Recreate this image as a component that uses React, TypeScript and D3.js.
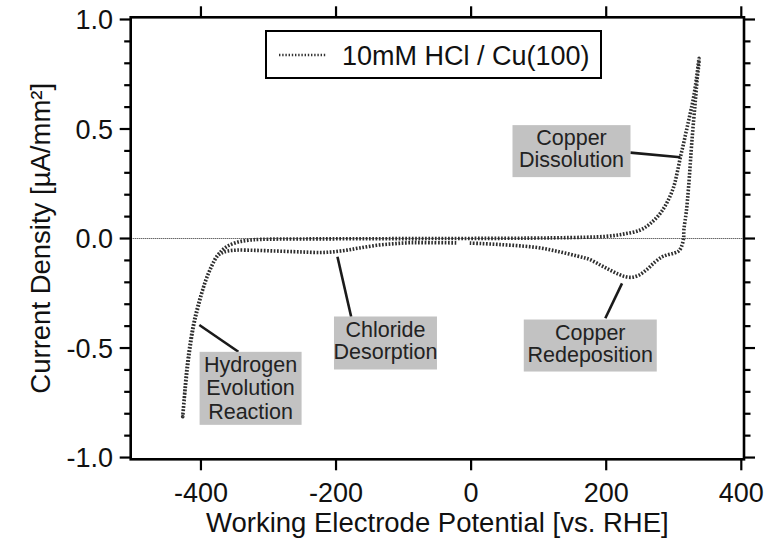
import React from "react";
import * as d3 from "d3";

// Cyclic voltammogram of Cu(100) in 10 mM HCl, traced as one continuous sweep
const potential: number[] = [
  -22, -60, -90, -115, -140, -165, -184, -205, -223, -245, -263, -290, -320, -347, -360, -368, -376, -384, -394, -404, -411, -418, -423, -427,
  -425, -421, -415, -408, -399, -389, -379, -370, -360, -345, -330, -312, -250, -150, -50, 50, 120, 170, 200, 225, 250.5, 266, 280, 291, 300, 305, 310, 315, 320, 325, 329.5, 334, 337.5,
  337, 335.5, 332, 327, 322, 318.5, 315, 314.5, 311, 307, 300, 290, 282, 272, 260, 248, 238, 228, 218, 205, 192, 175, 157, 130, 100, 70, 40, 15, -2,
];
const current: number[] = [
  -0.02, -0.019, -0.019, -0.024, -0.031, -0.043, -0.053, -0.061, -0.064, -0.062, -0.06, -0.057, -0.054, -0.053, -0.057, -0.064, -0.08, -0.125, -0.2, -0.31, -0.4, -0.54, -0.677, -0.814,
  -0.74, -0.6, -0.46, -0.35, -0.25, -0.16, -0.095, -0.058, -0.034, -0.016, -0.008, -0.004, -0.002, -0.001, 0.0, 0.001, 0.003, 0.006, 0.01, 0.02, 0.039, 0.07, 0.115, 0.17, 0.237, 0.3, 0.373, 0.44, 0.51, 0.58, 0.647, 0.74, 0.823,
  0.79, 0.754, 0.63, 0.45, 0.237, 0.12, 0.04, 0.0, -0.04, -0.058, -0.067, -0.075, -0.085, -0.108, -0.142, -0.168, -0.177, -0.174, -0.163, -0.143, -0.122, -0.095, -0.08, -0.06, -0.042, -0.033, -0.027, -0.023, -0.021,
];

const xTicks: number[] = [-400, -200, 0, 200, 400];
const yTicks: number[] = [-1.0, -0.5, 0.0, 0.5, 1.0];
const yMinorTicks: number[] = d3.range(-10, 11).map((i) => i / 10);

const legendLabel = "10mM HCl / Cu(100)";
const xTitle = "Working Electrode Potential [vs. RHE]";
const yTitle = "Current Density [µA/mm²]";

// Callouts: box centre and leader line given in data units
const callouts = [
  { lines: ["Copper", "Dissolution"], cx: 148.6, cy: 0.399, w: 118, h: 52, from: [235.7, 0.392], to: [309.8, 0.371] },
  { lines: ["Copper", "Redeposition"], cx: 176.4, cy: -0.4886, w: 133, h: 52, from: [223.4, -0.2046], to: [198.7, -0.364] },
  { lines: ["Chloride", "Desorption"], cx: -126.8, cy: -0.477, w: 103, h: 53, from: [-197.9, -0.083], to: [-177.6, -0.357] },
  { lines: ["Hydrogen", "Evolution", "Reaction"], cx: -326.5, cy: -0.684, w: 102, h: 73, from: [-402.4, -0.395], to: [-344.6, -0.517] },
];

const W = 766;
const H = 543;
const FONT = "'Liberation Sans', Arial, Helvetica, sans-serif";

export default function App() {
  const x = d3.scaleLinear().domain([-504, 404]).range([130.7, 744]);
  const y = d3.scaleLinear().domain([-1.008, 1.01]).range([459.3, 17.3]);
  const [x0, x1] = x.range();
  const [y0, y1] = y.range();

  const pts: [number, number][] = potential.map((p, i) => [p, current[i]]);
  const line = d3
    .line<[number, number]>()
    .x((d) => x(d[0]))
    .y((d) => y(d[1]))
    .curve(d3.curveCatmullRom.alpha(0.5));

  const curveStyle = { fill: "none", stroke: "#2e2e2e", strokeWidth: 3.6, strokeDasharray: "1.7 1.6" };

  return (
    <svg
      width={W}
      height={H}
      style={{ position: "absolute", left: 0, top: 0, background: "#fff" }}
      fontFamily={FONT}
    >
      <rect x={0} y={0} width={W} height={H} fill="#fff" />

      {/* zero-current reference */}
      <line x1={x0} x2={x1} y1={y(0)} y2={y(0)} stroke="#222" strokeWidth={1} strokeDasharray="1 1" />

      {/* voltammogram */}
      <path d={line(pts) || ""} {...curveStyle} />

      {/* callouts */}
      {callouts.map((c, i) => {
        const bx = x(c.cx) - c.w / 2;
        const by = y(c.cy) - c.h / 2;
        const lh = c.lines.length === 3 ? 23.3 : 22;
        return (
          <g key={i}>
            <line
              x1={x(c.from[0])}
              y1={y(c.from[1])}
              x2={x(c.to[0])}
              y2={y(c.to[1])}
              stroke="#1a1a1a"
              strokeWidth={2.6}
            />
            <rect x={bx} y={by} width={c.w} height={c.h} fill="#c2c2c2" />
            {c.lines.map((t, j) => (
              <text
                key={j}
                x={x(c.cx)}
                y={by + 20.3 + j * lh}
                textAnchor="middle"
                fontSize={21.5}
                fill="#222"
              >
                {t}
              </text>
            ))}
          </g>
        );
      })}

      {/* legend */}
      <rect x={266} y={31} width={335} height={47} fill="#fff" stroke="#000" strokeWidth={2} />
      <line x1={279} x2={326} y1={55} y2={55} stroke="#333" strokeWidth={2.6} strokeDasharray="1.4 1.8" />
      <text x={342} y={65} fontSize={27} fill="#111">
        {legendLabel}
      </text>

      {/* frame */}
      <rect x={x0} y={y1} width={x1 - x0} height={y0 - y1} fill="none" stroke="#000" strokeWidth={2.6} />

      {/* x ticks, bottom and top */}
      {xTicks.map((t) => (
        <g key={"x" + t}>
          <line x1={x(t)} x2={x(t)} y1={y0} y2={y0 + 11} stroke="#000" strokeWidth={2.2} />
          <line x1={x(t)} x2={x(t)} y1={y1} y2={y1 - 11} stroke="#000" strokeWidth={2.2} />
          <text x={x(t)} y={502} textAnchor="middle" fontSize={27} fill="#111">
            {String(t)}
          </text>
        </g>
      ))}

      {/* y ticks, left and right */}
      {yMinorTicks.map((t) => {
        const major = yTicks.some((m) => Math.abs(m - t) < 1e-9);
        const len = major ? 11 : 6.5;
        return (
          <g key={"y" + t}>
            <line x1={x0} x2={x0 - len} y1={y(t)} y2={y(t)} stroke="#000" strokeWidth={2.2} />
            <line x1={x1} x2={x1 + len} y1={y(t)} y2={y(t)} stroke="#000" strokeWidth={2.2} />
          </g>
        );
      })}
      {yTicks.map((t) => (
        <text key={"yl" + t} x={113} y={y(t) + 9.5} textAnchor="end" fontSize={27} fill="#111">
          {t.toFixed(1)}
        </text>
      ))}

      {/* axis titles */}
      <text x={(x0 + x1) / 2} y={532} textAnchor="middle" fontSize={27.5} fill="#111">
        {xTitle}
      </text>
      <text
        transform={`translate(50, ${(y0 + y1) / 2}) rotate(-90)`}
        textAnchor="middle"
        fontSize={27.5}
        fill="#111"
      >
        {yTitle}
      </text>
    </svg>
  );
}
